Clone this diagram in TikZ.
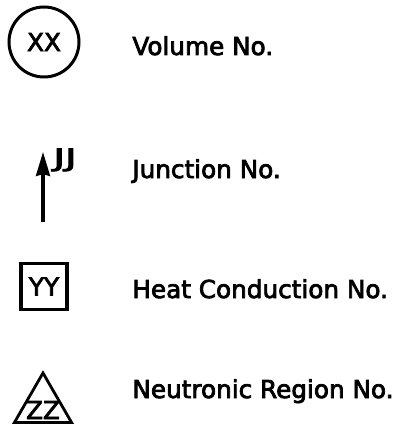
\documentclass[tikz,border=0pt]{standalone}
\usepackage{fontspec}
\setsansfont{DejaVu Sans}[FakeBold=3]
\usepackage{tikz}
\usetikzlibrary{arrows.meta,shapes.geometric}
\tikzset{
  legend text/.style={font=\fontsize{12.35}{15}\sffamily, inner sep=0pt,
    anchor=base west},
  symbol text/.style={font=\fontsize{12.35}{15}\sffamily, inner sep=0pt},
  volume sym/.style={circle, draw, line width=1.5pt, minimum size=35pt,
    inner sep=0pt, font=\fontsize{12.35}{15}\sffamily},
  heat sym/.style={rectangle, draw, line width=1.6pt, minimum size=23pt,
    inner sep=0pt, font=\fontsize{12.35}{15}\sffamily},
  region sym/.style={regular polygon, regular polygon sides=3, draw,
    line width=1.4pt, minimum size=33pt, inner sep=0pt},
  junction arc/.style={-{Stealth[length=12pt, width=7pt, inset=1pt]},
    line width=1.6pt}
}

\begin{document}
\begin{tikzpicture}[x=0.5pt, y=-0.5pt]
  \useasboundingbox (0,0) rectangle (400,427);
  \node[volume sym] (vol) at (44,42) {XX};
  \node[legend text] (volText) at (132,55) {Volume No.};
  \coordinate (jFoot) at (43,222);
  \coordinate (jHead) at (43,152);
  \draw[junction arc] (jFoot) -- (jHead);
  \node[symbol text, anchor=north west] (jun) at (53,148)
    {\scalebox{1.6}[1]{JJ}};
  \node[legend text] (junText) at (132,178) {Junction No.};
  \node[heat sym] (heat) at (44,286.5) {YY};
  \node[legend text] (heatText) at (132,298) {Heat Conduction No.};
  \node[region sym] (region) at (43,406) {};
  \node[symbol text] (zz) at (43,410) {ZZ};
  \node[legend text] (regText) at (132,398) {Neutronic Region No.};
\end{tikzpicture}
\end{document}
